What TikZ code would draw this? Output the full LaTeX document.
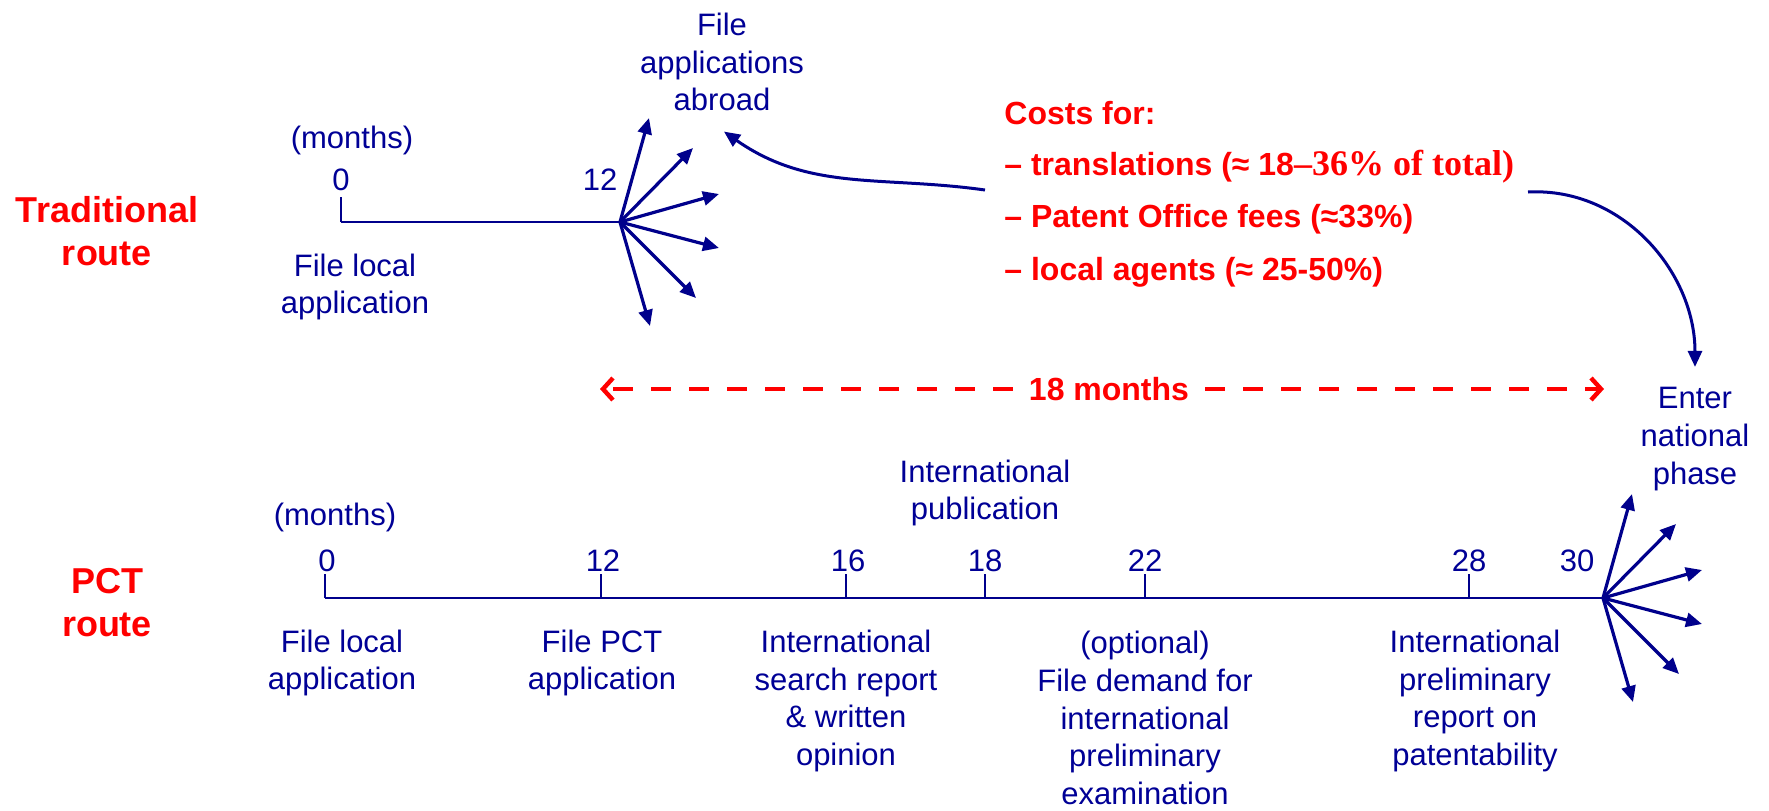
\documentclass[tikz,border=0pt]{standalone}
\usepackage{fontspec}
\setmainfont{Liberation Sans}
\newfontfamily\timesface{Liberation Serif}
\usetikzlibrary{arrows.meta,calc}
\definecolor{lineblue}{RGB}{0,0,140}
\definecolor{txtblue}{RGB}{0,0,150}
\definecolor{alertred}{RGB}{255,0,0}
\tikzset{
  bluetxt/.style={text=txtblue, font=\fontsize{15.5}{18.9}\selectfont, align=center, inner sep=0pt},
  routelbl/.style={text=alertred, font=\bfseries\fontsize{18}{21.5}\selectfont, align=center, inner sep=0pt},
  costtxt/.style={text=alertred, font=\bfseries\fontsize{16}{19}\selectfont, inner sep=0pt},
  axis/.style={draw=lineblue, line width=1.35pt},
  fanarrow/.style={draw=lineblue, line width=1.6pt, -{Triangle[length=8pt,width=7pt]}},
  bluecurve/.style={draw=lineblue, line width=1.5pt, -{Triangle[length=8pt,width=7pt]}},
  reddash/.style={draw=alertred, line width=2.2pt, dash pattern=on 10pt off 9pt,
                  -{Straight Barb[length=5pt,width=11pt,line width=2.2pt]}}
}
\begin{document}
\begin{tikzpicture}[x=0.5pt,y=-0.5pt]
\useasboundingbox[fill=white] (0,0) rectangle (1769,810);

% route titles
\node[routelbl] (trad) at (107,231) {Traditional\\route};
\node[routelbl] (pct) at (107,603) {PCT\\route};

% ---- traditional route timeline ----
\coordinate (t0) at (341,222);
\coordinate (tf) at (620,222);
\draw[axis] (t0) -- (tf);
\draw[axis] (t0) -- ++(0,-25);
\node[bluetxt] (tmonths) at (352,140) {(months)};
\node[bluetxt] (tzero) at (341,180) {0};
\node[bluetxt] (ttwelve) at (600,180) {12};
\node[bluetxt] (tlocal) at (355,287) {File local\\application};
\node[bluetxt] (abroad) at (722,62) {File\\applications\\abroad};
\foreach \dx/\dy in {29/-104,73/-74,99/-28,99/26,76/76,30/104}
  \draw[fanarrow] (tf) -- ++(\dx,\dy);

% ---- cost breakdown ----
\node[costtxt, anchor=west] (costhead) at (1004,113) {Costs for:};
\node[costtxt, anchor=west] (costtr) at (1004,167) {– translations (≈ 18{\timesface\fontsize{18}{19}\selectfont –36\% of total)}};
\node[costtxt, anchor=west] (costpo) at (1004,219) {– Patent Office fees (≈33\%)};
\node[costtxt, anchor=west] (costla) at (1004,272) {– local agents (≈ 25-50\%)};

\coordinate (cl) at (985,190);
\coordinate (cr) at (1528,192);
\draw[bluecurve] (cl) to[out=172,in=-35] ($(abroad.south)+(2,20)$);

% ---- 18 months span ----
\node[costtxt, inner xsep=8pt] (span) at (1109,389) {18 months};
\coordinate (dl) at (600,389);
\coordinate (dr) at (1604,389);
\draw[reddash] (span) -- (dl);
\draw[reddash] (span) -- (dr);

% ---- national phase ----
\node[bluetxt] (enter) at (1695,439) {Enter\\national\\phase};
\draw[bluecurve] (cr) to[out=3,in=90] ($(enter.north)+(0,-20)$);

% ---- PCT route timeline ----
\coordinate (b0) at (325,598);
\coordinate (bf) at (1603,598);
\draw[axis] (b0) -- (bf);
\foreach \x in {325,601,846,985,1145,1469}
  \draw[axis] (\x,598) -- ++(0,-24);
\node[bluetxt] (bmonths) at (335,517) {(months)};
\node[bluetxt] (bzero) at (327,561) {0};
\node[bluetxt] (btwelve) at (603,561) {12};
\node[bluetxt] (bsixteen) at (848,561) {16};
\node[bluetxt] (beighteen) at (985,561) {18};
\node[bluetxt] (btwentytwo) at (1145,561) {22};
\node[bluetxt] (btwentyeight) at (1469,561) {28};
\node[bluetxt] (bthirty) at (1577,561) {30};
\node[bluetxt] (pub) at (985,493) {International\\publication};
\foreach \dx/\dy in {29/-104,73/-74,99/-28,99/26,76/76,30/104}
  \draw[fanarrow] (bf) -- ++(\dx,\dy);

\node[bluetxt] (blocal) at (342,663) {File local\\application};
\node[bluetxt] (bpct) at (602,663) {File PCT\\application};
\node[bluetxt] (isr) at (846,701) {International\\search report\\\& written\\opinion};
\node[bluetxt] (demand) at (1145,718) {(optional)\\File demand for\\international\\preliminary\\examination};
\node[bluetxt] (iprp) at (1475,701) {International\\preliminary\\report on\\patentability};
\end{tikzpicture}
\end{document}
